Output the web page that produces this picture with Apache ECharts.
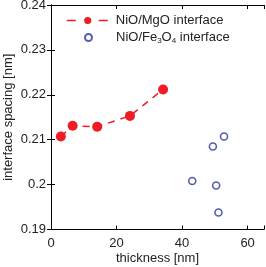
<!DOCTYPE html>
<html><head><meta charset="utf-8">
<script src="https://cdn.jsdelivr.net/npm/echarts@6/dist/echarts.min.js"></script>
<style>html,body{margin:0;padding:0;background:#fff}#c{width:266px;height:267px}</style>
</head><body><div id="c"></div>
<script>
const mgoThickness = [3.0, 6.6, 14.1, 24.1, 34.2];
const mgoSpacing = [0.2107, 0.2131, 0.2129, 0.2153, 0.2212];
const feThickness = [52.8, 49.4, 43.1, 50.4, 51.1];
const feSpacing = [0.2107, 0.2085, 0.2008, 0.1998, 0.1938];
const xTicks = [0, 20, 40, 60];
const yTicks = [0.19, 0.2, 0.21, 0.22, 0.23, 0.24];

const chart = echarts.init(document.getElementById('c'), null, {renderer: 'canvas'});
const font = 'Liberation Sans, Arial, sans-serif';
const txt = '#222';
const axisCommon = {
  axisLine: {show: true, lineStyle: {color: '#000', width: 1}},
  axisTick: {show: true, inside: true, length: 4, lineStyle: {color: '#000'}},
  splitLine: {show: false}
};
const legendText = {fontFamily: font, fontSize: 13, color: txt,
  rich: {a: {fontFamily: font, fontSize: 13, color: txt},
         s: {fontFamily: font, fontSize: 8, color: txt, verticalAlign: 'bottom', padding: [7, 0, 0, 0]}}};
chart.setOption({
  animation: false,
  grid: {left: 51, right: 2, top: 5, bottom: 37.5, containLabel: false, outerBoundsMode: 'none'},
  xAxis: [
    Object.assign({type: 'value', min: 0, max: 65, interval: 20, position: 'bottom',
      name: 'thickness [nm]', nameLocation: 'middle', nameGap: 22, nameMoveOverlap: false,
      nameTextStyle: {fontFamily: font, fontSize: 13, color: txt},
      axisLabel: {fontFamily: font, fontSize: 13, color: txt, margin: 7,
        customValues: xTicks}}, axisCommon),
    Object.assign({type: 'value', min: 0, max: 65, interval: 20, position: 'top',
      axisLabel: {show: false}}, axisCommon)
  ],
  yAxis: [
    Object.assign({type: 'value', min: 0.19, max: 0.24, interval: 0.01, position: 'left',
      name: 'interface spacing [nm]', nameLocation: 'middle', nameGap: 36, nameMoveOverlap: false,
      nameTextStyle: {fontFamily: font, fontSize: 13, color: txt},
      axisLabel: {fontFamily: font, fontSize: 13, color: txt, margin: 5,
        formatter: v => { const t = yTicks.find(k => Math.abs(k - v) < 1e-6); return t === undefined ? '' : String(+t.toFixed(2)); }}}, axisCommon),
    Object.assign({type: 'value', min: 0.19, max: 0.24, interval: 0.01, position: 'right',
      axisLabel: {show: false}}, axisCommon)
  ],
  legend: [
    {left: 61, top: 9, itemWidth: 42, itemHeight: 9, itemGap: 6,
      textStyle: Object.assign({padding: [0, 0, 0, 2]}, legendText),
      formatter: () => '{a|NiO/MgO interface}',
      data: [{name: 'mgo', lineStyle: {type: [9, 23], width: 1.5}}]},
    {left: 79, top: 26, itemWidth: 7, itemHeight: 7, itemGap: 6,
      textStyle: Object.assign({padding: [0, 0, 0, 19]}, legendText),
      formatter: () => '{a|NiO/Fe}{s|3}{a|O}{s|4}{a| interface}',
      data: ['fe']}
  ],
  series: [
    {name: 'mgo', type: 'line', data: mgoThickness.map((x, i) => [x, mgoSpacing[i]]),
      color: '#ee1c25', symbol: 'circle', symbolSize: 10,
      lineStyle: {color: '#ee1c25', width: 1.5, type: [7, 6]},
      itemStyle: {color: '#ee1c25'}},
    {name: 'fe', type: 'scatter', data: feThickness.map((x, i) => [x, feSpacing[i]]),
      color: '#2a3598', symbol: 'circle', symbolSize: 7,
      itemStyle: {color: '#fff', borderColor: '#2a3598', borderWidth: 1.6}}
  ]
});
</script></body></html>
